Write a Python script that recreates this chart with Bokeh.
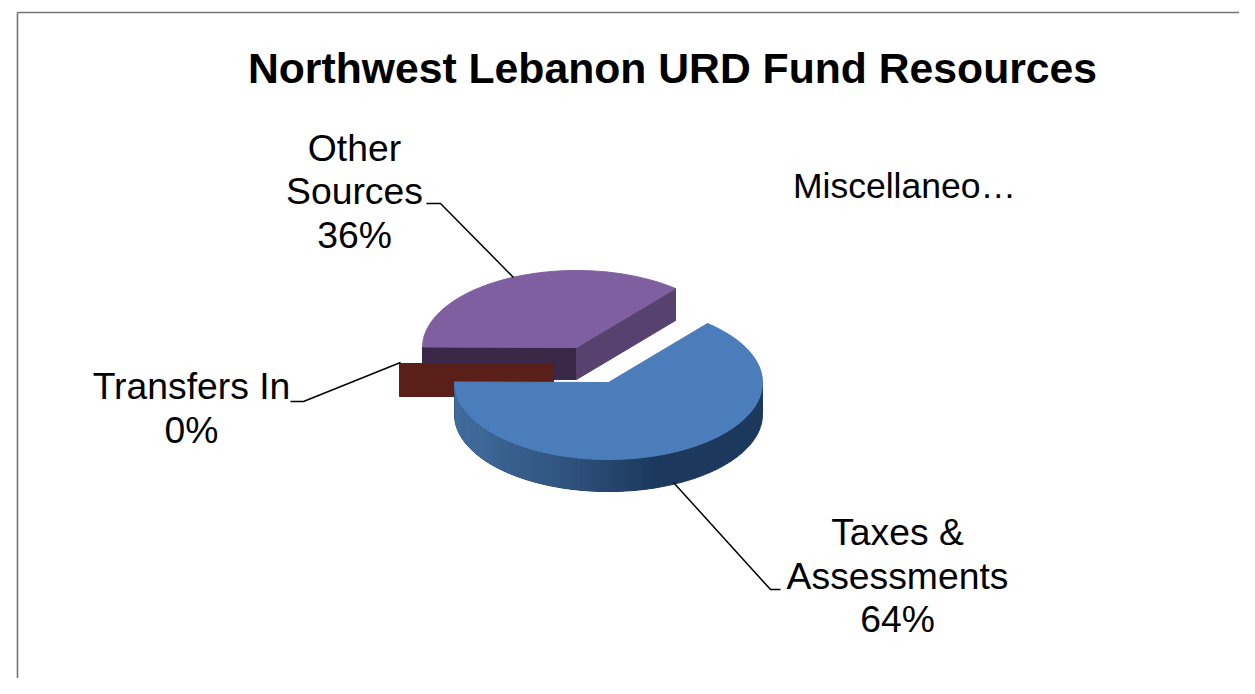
import numpy as np
from bokeh.core.properties import value
from bokeh.embed import file_html
from bokeh.models import ColumnDataSource
from bokeh.plotting import figure
from bokeh.resources import INLINE

title = "Northwest Lebanon URD Fund Resources"
categories = ["Taxes & Assessments", "Transfers In", "Other Sources", "Miscellaneous"]
shares = [64, 0, 36, 0]
label_lines = [["Taxes &", "Assessments", "64%"], ["Transfers In", "0%"], ["Other", "Sources", "36%"], ["Miscellaneo\u2026"]]

W, H = 1239, 678
p = figure(width=W, height=H, x_range=(0, W), y_range=(H, 0), output_backend="svg",
           toolbar_location=None, min_border=0, outline_line_color=None, background_fill_color="white")
p.axis.visible = False
p.grid.visible = False

FONT = value("Liberation Sans")
RX, RY, DEPTH = 154, 77, 32
FIRST_ANGLE = 50.0  # degrees, slices run clockwise from here
centers = {"Taxes & Assessments": (608, 382), "Transfers In": (553, 363), "Other Sources": (576, 347)}
top_col = {"Taxes & Assessments": "#4b7dba", "Other Sources": "#7f5fa0"}

# angles from the values
angles = {}
a = FIRST_ANGLE
for c, s in zip(categories, shares):
    angles[c] = (a, a - s * 3.6)
    a -= s * 3.6


def rim(cx, cy, t, dy=0):
    r = np.radians(t)
    return cx + RX * np.cos(r), cy - RY * np.sin(r) + dy


def sector(name):
    cx, cy = centers[name]
    a0, a1 = angles[name]
    t = np.linspace(a0, a1, 160)
    x, y = rim(cx, cy, t)
    return np.r_[cx, x], np.r_[cy, y]


# Other Sources: the slice's cut faces and top
n = "Other Sources"
cx, cy = centers[n]
a0, a1 = angles[n]
lx, ly = rim(cx, cy, a0)
rx_, ry_ = rim(cx, cy, a1)
p.patch([lx, cx, cx, lx], [ly, cy, cy + DEPTH, ly + DEPTH], color="#3a2848")
p.patch([cx, rx_, rx_, cx], [cy, ry_, ry_ + DEPTH, cy + DEPTH], color="#57426f")
x, y = sector(n)
p.patch(x, y, color=top_col[n])

# Transfers In: zero share, only its flat cut face shows
n = "Transfers In"
cx, cy = centers[n]
ang = angles[n][0]
ex = cx + RX * np.cos(np.radians(ang))
p.quad(left=[min(ex, cx)], right=[max(ex, cx)], top=[cy], bottom=[cy + DEPTH + 1], color="#5a1f18")

# Taxes: outer wall, a dark base with a shaded sweep on its left part, then top
n = "Taxes & Assessments"
cx, cy = centers[n]
wall = np.linspace(180, 360, 200)
ux, uy = rim(cx, cy, wall)
bx, by = rim(cx, cy, wall[::-1], DEPTH)
p.patch(np.r_[ux, bx], np.r_[uy, by], color="#1c385c")
ts = np.arange(180, 288, 1.0)
stops_t = [180, 215, 250, 288]
stops_c = np.array([[66, 110, 160], [62, 104, 152], [50, 86, 130], [28, 56, 92]])
xs, ys, cols = [], [], []
for t in ts:
    q = np.array([t, t + 2.5])
    ux, uy = rim(cx, cy, q)
    bx, by = rim(cx, cy, q[::-1], DEPTH)
    xs.append(np.r_[ux, bx])
    ys.append(np.r_[uy, by])
    rgb = [int(np.interp(t, stops_t, stops_c[:, i])) for i in range(3)]
    cols.append("#%02x%02x%02x" % tuple(rgb))
p.patches(xs, ys, fill_color=cols, line_color=None)
x, y = sector(n)
p.patch(x, y, color=top_col[n])

# leader lines
leaders = [([426, 440, 513], [203, 203, 277]), ([290, 303, 400], [401, 401, 362]), ([780, 770, 673], [589, 589, 482])]
for lx_, ly_ in leaders:
    p.line(lx_, ly_, line_color="black", line_width=1.5)

# frame
p.line([17, 17], [H, 12], line_color="#767676", line_width=1.6)
p.line([17, W], [12, 12], line_color="#767676", line_width=1.6)

# texts
anchors = [(897, 531.5), (191, 385.5), (354, 147), (904, 185)]
sizes = ["37.3px", "37.3px", "37.3px", "35.5px"]
lab = {"x": [], "y": [], "t": [], "s": []}
for (ax, ay), lines, sz in zip(anchors, label_lines, sizes):
    for i, s in enumerate(lines):
        lab["x"].append(ax)
        lab["y"].append(ay + i * 43.5)
        lab["t"].append(s)
        lab["s"].append(sz)
p.text("x", "y", "t", source=ColumnDataSource(lab), text_font=FONT, text_font_size="s",
       text_align="center", text_baseline="middle", text_color="black")
p.text([672], [67], [title], text_font=FONT, text_font_size="42.7px", text_font_style="bold",
       text_align="center", text_baseline="middle", text_color="black")

open("out.html", "w").write(file_html(p, INLINE))
